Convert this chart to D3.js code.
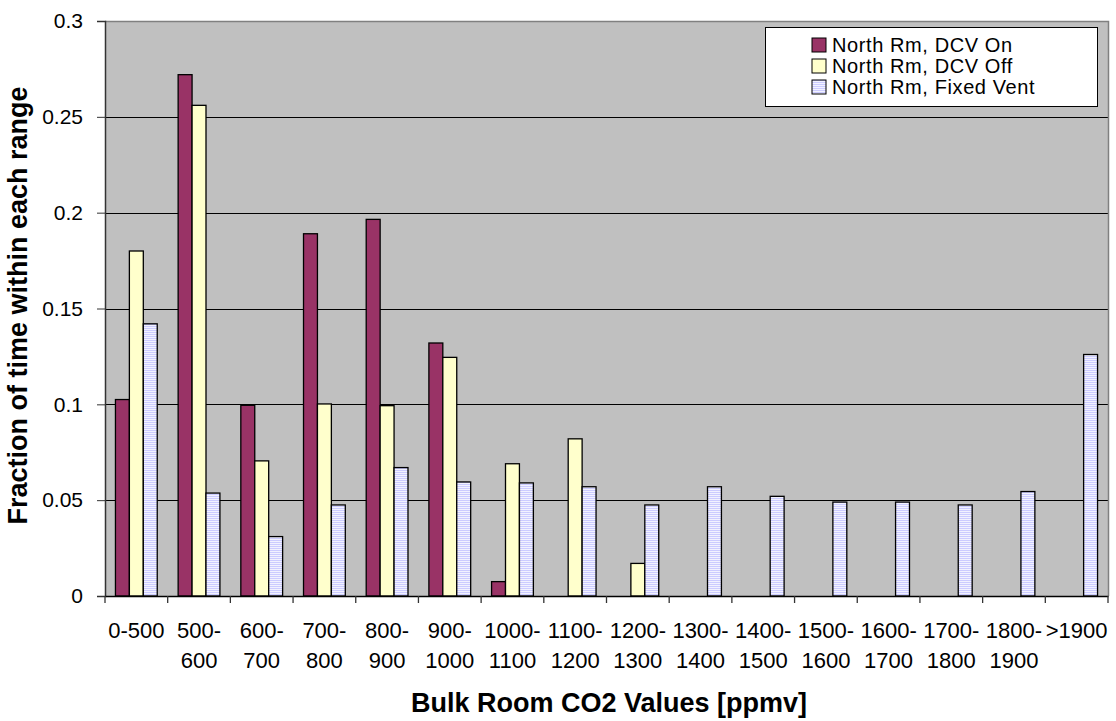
<!DOCTYPE html>
<html><head><meta charset="utf-8">
<script src="https://cdn.jsdelivr.net/npm/d3@7/dist/d3.min.js"></script>
<style>body{margin:0;background:#fff}svg{display:block;font-family:"Liberation Sans",Arial,sans-serif}</style>
</head><body><svg id="c" width="1116" height="721"></svg>
<script>
const categories = ["0-500","500-600","600-700","700-800","800-900","900-1000","1000-1100","1100-1200","1200-1300","1300-1400","1400-1500","1500-1600","1600-1700","1700-1800","1800-1900",">1900"];
const catLabels = [["0-500"],["500-","600"],["600-","700"],["700-","800"],["800-","900"],["900-","1000"],["1000-","1100"],["1100-","1200"],["1200-","1300"],["1300-","1400"],["1400-","1500"],["1500-","1600"],["1600-","1700"],["1700-","1800"],["1800-","1900"],[">1900"]];
const seriesNames = ["North Rm, DCV On","North Rm, DCV Off","North Rm, Fixed Vent"];
const dcvOn    = [0.1025,0.272,0.0995,0.189,0.1965,0.132,0.0075,0,0,0,0,0,0,0,0,0];
const dcvOff   = [0.180,0.256,0.0705,0.1002,0.0993,0.1245,0.069,0.082,0.017,0,0,0,0,0,0,0];
const fixedVent= [0.142,0.0537,0.031,0.0475,0.067,0.0595,0.059,0.057,0.0475,0.057,0.052,0.049,0.049,0.0475,0.0545,0.126];
const yTicks = [0,0.05,0.1,0.15,0.2,0.25,0.3];
const yTickLabels = ["0","0.05","0.1","0.15","0.2","0.25","0.3"];
const xTitle = "Bulk Room CO2 Values [ppmv]";
const yTitle = "Fraction of time within each range";

const seriesValues = [dcvOn, dcvOff, fixedVent];
const svg = d3.select("#c");
const L=105, R=1108, T=21, B=596;

const defs = svg.append("defs");
const pat = defs.append("pattern").attr("id","stripes").attr("patternUnits","userSpaceOnUse").attr("width",4).attr("height",2);
pat.append("rect").attr("width",4).attr("height",2).attr("fill","#ccccff");
pat.append("rect").attr("y",1).attr("width",4).attr("height",1).attr("fill","#f2f2ff");
const fills = ["#993366","#ffffcc","url(#stripes)"];

const x0 = d3.scaleBand().domain(categories).range([L,R]).padding(0);
const bw = x0.bandwidth();
const x1 = d3.scaleBand().domain(seriesNames).range([bw*0.75/4.5, bw*3.75/4.5]).padding(0);
const y = d3.scaleLinear().domain([0,0.3]).range([B,T]);

svg.append("rect").attr("x",L).attr("y",T).attr("width",R-L).attr("height",B-T).attr("fill","#c0c0c0");

// gridlines
svg.append("g").selectAll("line").data(yTicks.filter(d=>d>0 && d<0.3)).join("line")
  .attr("x1",L).attr("x2",R).attr("y1",d=>Math.round(y(d))+0.5).attr("y2",d=>Math.round(y(d))+0.5)
  .attr("stroke","#000").attr("stroke-width",1);
// plot border top/right
svg.append("path").attr("d",`M${L},${T+0.5}H${R+0.5}V${B}`).attr("fill","none").attr("stroke","#808080").attr("stroke-width",1.5);

// bars
const g = svg.append("g");
seriesValues.forEach((vals,si)=>{
  g.append("g").selectAll("rect").data(vals.map((v,i)=>({v,c:categories[i]})).filter(d=>d.v>0)).join("rect")
    .attr("x",d=>x0(d.c)+x1(seriesNames[si]))
    .attr("y",d=>y(d.v))
    .attr("width",x1.bandwidth())
    .attr("height",d=>B-y(d.v))
    .attr("fill",fills[si]).attr("stroke","#000").attr("stroke-width",1.3);
});

// y axis
const yAxis = d3.axisLeft(y).tickValues(yTicks).tickFormat((d,i)=>yTickLabels[i]).tickSize(8).tickPadding(14);
const ya = svg.append("g").attr("transform",`translate(${L},0)`).call(yAxis);
ya.select(".domain").attr("stroke","#333").attr("stroke-width",1.5);
ya.selectAll(".tick line").attr("stroke","#333");
ya.selectAll("text").attr("font-size",21).attr("font-family","Liberation Sans, Arial").attr("fill","#000");

// x axis
const xAxis = d3.axisBottom(x0).tickFormat("").tickSize(0);
const xa = svg.append("g").attr("transform",`translate(0,${B})`).call(xAxis);
xa.select(".domain").attr("stroke","#000").attr("stroke-width",1.5);
xa.selectAll(".tick").remove();
const bounds = categories.map(c=>x0(c)).concat([R]);
xa.selectAll("line.tk").data(bounds).join("line").attr("class","tk")
  .attr("x1",d=>d).attr("x2",d=>d).attr("y1",0).attr("y2",7).attr("stroke","#333").attr("stroke-width",1.3);
const lab = svg.append("g").selectAll("text").data(categories).join("text")
  .attr("x",d=>x0(d)+bw/2).attr("y",638).attr("text-anchor","middle").attr("font-size",22).attr("fill","#000");
lab.each(function(d,i){
  const t=d3.select(this);
  catLabels[i].forEach((s,k)=>t.append("tspan").attr("x",x0(d)+bw/2).attr("y",638+k*30).text(s));
});

// titles
svg.append("text").attr("x",609).attr("y",712).attr("text-anchor","middle").attr("font-weight","bold").attr("font-size",27).text(xTitle);
svg.append("text").attr("transform",`translate(27,${(T+B)/2-3}) rotate(-90)`).attr("text-anchor","middle").attr("font-weight","bold").attr("font-size",27).text(yTitle);

// legend
const lg = svg.append("g");
lg.append("rect").attr("x",765.5).attr("y",27.5).attr("width",332).attr("height",79).attr("fill","#fff").attr("stroke","#000").attr("stroke-width",1);
seriesNames.forEach((n,i)=>{
  const cy = 45 + i*21;
  lg.append("rect").attr("x",812).attr("y",cy-7).attr("width",14).attr("height",14).attr("fill",fills[i]).attr("stroke","#000").attr("stroke-width",1);
  lg.append("text").attr("x",832).attr("y",cy+7).attr("font-size",20).attr("letter-spacing",0.6).text(n);
});
</script></body></html>
